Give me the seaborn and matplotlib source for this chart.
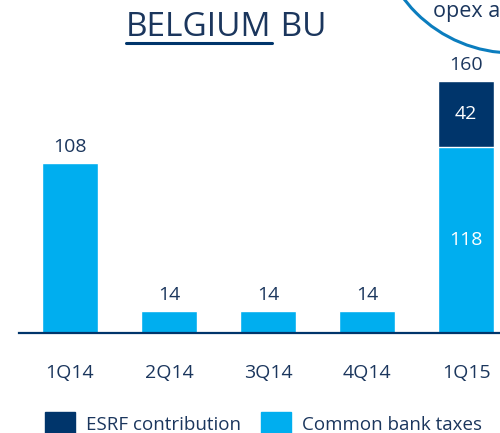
import matplotlib
matplotlib.use("Agg")
import matplotlib.pyplot as plt
from matplotlib.patches import Ellipse, Rectangle
import seaborn as sns
import pandas as pd

quarters = ["1Q14", "2Q14", "3Q14", "4Q14", "1Q15"]
common_bank_taxes = [108, 14, 14, 14, 118]
esrf_contribution = [0, 0, 0, 0, 42]
title_main = "BELGIUM"
title_rest = " BU"
legend_labels = ["ESRF contribution", "Common bank taxes"]

DARK = "#00356B"
LIGHT = "#00AEEF"
TEXT = "#1B365D"
RING = "#0B7DBE"

sns.set_theme(style="white")
plt.rcParams["font.family"] = ["Open Sans", "DejaVu Sans"]

df = pd.DataFrame({
    "quarter": quarters,
    "common": common_bank_taxes,
    "esrf": esrf_contribution,
})
df["total"] = df["common"] + df["esrf"]

fig = plt.figure(figsize=(5.0, 4.33), dpi=100)
ax = fig.add_axes([19 / 500, 100 / 433, 1 - 19 / 500, 333 / 433])

sns.barplot(data=df, x="quarter", y="total", color=DARK, width=0.565,
            saturation=1, ax=ax)
sns.barplot(data=df, x="quarter", y="common", color=LIGHT, width=0.565,
            saturation=1, ax=ax)

ax.set_xlim(-0.515, 4.343)
ax.set_ylim(0, 211.5)
for s in ["top", "right", "left"]:
    ax.spines[s].set_visible(False)
ax.spines["bottom"].set_color(DARK)
ax.spines["bottom"].set_linewidth(1.6)
ax.set_yticks([])
ax.set_xlabel("")
ax.set_ylabel("")
ax.tick_params(axis="x", length=0, pad=22, labelsize=14, labelcolor=TEXT)

for i, row in df.iterrows():
    ax.annotate(str(row["total"]), (i, row["total"]), xytext=(0, 5),
                textcoords="offset points", ha="center", va="bottom",
                fontsize=14, color=TEXT)
    if row["esrf"] > 0:
        ax.text(i, row["common"] + row["esrf"] / 2, str(row["esrf"]),
                ha="center", va="center", fontsize=14, color="white")
        ax.text(i, row["common"] / 2, str(row["common"]),
                ha="center", va="center", fontsize=14, color="white")

# title with underlined first word
t1 = fig.text(126 / 500, 1 - 36 / 433, title_main, ha="left", va="baseline",
              fontsize=24, color=TEXT)
fig.canvas.draw()
bb = t1.get_window_extent()
fig.text(bb.x1 / 500, 1 - 36 / 433, title_rest, ha="left", va="baseline",
         fontsize=24, color=TEXT)
fig.add_artist(plt.Line2D([bb.x0 / 500, bb.x1 / 500], [1 - 42.5 / 433] * 2,
                          transform=fig.transFigure, color=DARK, lw=2.2))

# ring in top-right corner
fig.add_artist(Ellipse((513 / 500, 1 + 84 / 433), 2 * 137 / 500, 2 * 137 / 433,
                       transform=fig.transFigure, fill=False, edgecolor=RING,
                       lw=2.2))
fig.text(433 / 500, 1 - 17 / 433, "opex a", ha="left", va="baseline",
         fontsize=15.5, color=TEXT)

# legend
for x0, lab, col in [(45, legend_labels[0], DARK), (261, legend_labels[1], LIGHT)]:
    fig.add_artist(Rectangle((x0 / 500, 0), 30 / 500, 21 / 433,
                             transform=fig.transFigure, color=col))
    fig.text((x0 + 41) / 500, 3 / 433, lab, ha="left", va="baseline",
             fontsize=13.5, color=TEXT)

fig.savefig("out.png", dpi=100)
